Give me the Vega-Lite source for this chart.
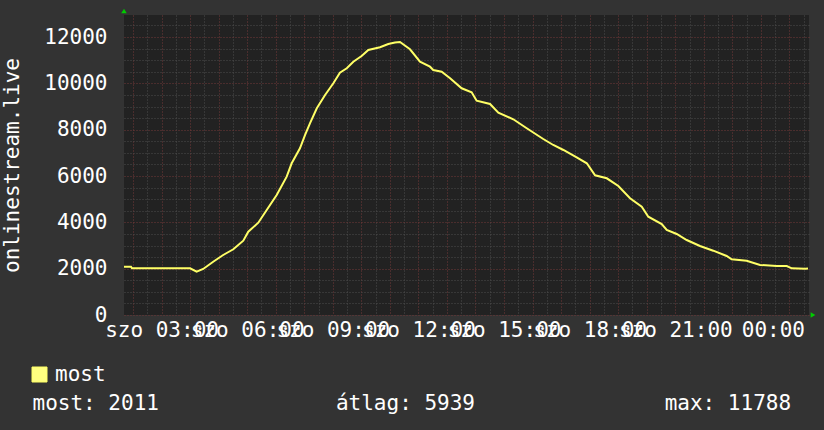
{
  "$schema": "https://vega.github.io/schema/vega-lite/v6.json",
  "autosize": "none",
  "width": 685,
  "height": 300,
  "padding": {"left": 124, "top": 15, "right": 15, "bottom": 115},
  "background": "#333333",
  "config": {
    "view": {"fill": "#222222", "stroke": null},
    "font": "DejaVu Sans Mono"
  },
  "title": {
    "text": "most: 2011\u00a0\u00a0\u00a0\u00a0\u00a0\u00a0\u00a0\u00a0\u00a0\u00a0\u00a0\u00a0\u00a0\u00a0átlag: 5939\u00a0\u00a0\u00a0\u00a0\u00a0\u00a0\u00a0\u00a0\u00a0\u00a0\u00a0\u00a0\u00a0\u00a0\u00a0max: 11788",
    "orient": "bottom",
    "anchor": "start",
    "frame": "group",
    "dx": -91.5,
    "offset": 8,
    "font": "DejaVu Sans Mono",
    "fontSize": 21,
    "fontWeight": "normal",
    "color": "#ffffff"
  },
  "encoding": {
    "x": {
      "field": "h", "type": "quantitative",
      "scale": {"domain": [1.685, 25.685], "nice": false, "zero": false},
      "axis": {
        "title": null,
        "values": [2, 2.5, 3, 3.5, 4, 4.5, 5, 5.5, 6, 6.5, 7, 7.5, 8, 8.5, 9, 9.5, 10, 10.5, 11, 11.5, 12, 12.5, 13, 13.5, 14, 14.5, 15, 15.5, 16, 16.5, 17, 17.5, 18, 18.5, 19, 19.5, 20, 20.5, 21, 21.5, 22, 22.5, 23, 23.5, 24, 24.5, 25, 25.5],
        "labelExpr": "datum.value % 3 == 0 ? (datum.value == 24 ? '00:00' : 'szo ' + (datum.value < 10 ? '0' : '') + datum.value + ':00') : ''",
        "labelOverlap": false,
        "labelBound": false,
        "labelFlush": false,
        "labelFont": "DejaVu Sans Mono",
        "labelFontSize": 21,
        "labelColor": "#ffffff",
        "labelPadding": 4,
        "labelOffset": {"condition": {"test": "datum.value == 24", "value": 12}, "value": 0},
        "ticks": false,
        "domain": false,
        "grid": true,
        "gridColor": {"condition": {"test": "datum.value % 1 == 0", "value": "#733838"}, "value": "#4d4d4d"},
        "gridDash": [1, 2],
        "gridWidth": 1,
        "gridOpacity": 1
      }
    },
    "y": {
      "field": "v", "type": "quantitative",
      "scale": {"domain": [0, 12950], "nice": false},
      "axis": {
        "title": "onlinestream.live",
        "titleFont": "DejaVu Sans Mono",
        "titleFontSize": 21,
        "titleFontWeight": "normal",
        "titleColor": "#ffffff",
        "titlePadding": 21,
        "values": [0, 500, 1000, 1500, 2000, 2500, 3000, 3500, 4000, 4500, 5000, 5500, 6000, 6500, 7000, 7500, 8000, 8500, 9000, 9500, 10000, 10500, 11000, 11500, 12000, 12500],
        "labelExpr": "datum.value % 2000 == 0 ? '' + datum.value : ''",
        "labelFont": "DejaVu Sans Mono",
        "labelFontSize": 21,
        "labelColor": "#ffffff",
        "labelPadding": 17,
        "labelOverlap": false,
        "labelBound": false,
        "labelFlush": false,
        "ticks": false,
        "domain": false,
        "grid": true,
        "gridColor": {"condition": {"test": "datum.value % 2000 == 0", "value": "#733838"}, "value": "#4d4d4d"},
        "gridDash": [1, 2],
        "gridWidth": 1,
        "gridOpacity": 1
      }
    }
  },
  "layer": [
    {
      "data": {"values": [
        {"h": 1.685, "v": 2085, "series": "most"},
        {"h": 1.93, "v": 2085, "series": "most"},
        {"h": 1.965, "v": 2016, "series": "most"},
        {"h": 4.0, "v": 2016, "series": "most"},
        {"h": 4.23, "v": 1869, "series": "most"},
        {"h": 4.46, "v": 1986, "series": "most"},
        {"h": 4.81, "v": 2301, "series": "most"},
        {"h": 5.16, "v": 2590, "series": "most"},
        {"h": 5.515, "v": 2836, "series": "most"},
        {"h": 5.865, "v": 3208, "series": "most"},
        {"h": 6.04, "v": 3596, "series": "most"},
        {"h": 6.39, "v": 3985, "series": "most"},
        {"h": 6.685, "v": 4533, "series": "most"},
        {"h": 7.035, "v": 5180, "series": "most"},
        {"h": 7.385, "v": 5970, "series": "most"},
        {"h": 7.56, "v": 6549, "series": "most"},
        {"h": 7.85, "v": 7196, "series": "most"},
        {"h": 8.03, "v": 7771, "series": "most"},
        {"h": 8.2, "v": 8276, "series": "most"},
        {"h": 8.44, "v": 8923, "series": "most"},
        {"h": 8.73, "v": 9497, "series": "most"},
        {"h": 9.02, "v": 10002, "series": "most"},
        {"h": 9.25, "v": 10460, "series": "most"},
        {"h": 9.49, "v": 10650, "series": "most"},
        {"h": 9.72, "v": 10935, "series": "most"},
        {"h": 10.01, "v": 11181, "series": "most"},
        {"h": 10.245, "v": 11440, "series": "most"},
        {"h": 10.655, "v": 11557, "series": "most"},
        {"h": 10.945, "v": 11699, "series": "most"},
        {"h": 11.18, "v": 11760, "series": "most"},
        {"h": 11.355, "v": 11788, "series": "most"},
        {"h": 11.705, "v": 11470, "series": "most"},
        {"h": 12.055, "v": 10935, "series": "most"},
        {"h": 12.405, "v": 10719, "series": "most"},
        {"h": 12.52, "v": 10577, "series": "most"},
        {"h": 12.815, "v": 10503, "series": "most"},
        {"h": 13.11, "v": 10218, "series": "most"},
        {"h": 13.515, "v": 9787, "series": "most"},
        {"h": 13.865, "v": 9614, "series": "most"},
        {"h": 14.04, "v": 9251, "series": "most"},
        {"h": 14.51, "v": 9109, "series": "most"},
        {"h": 14.8, "v": 8733, "series": "most"},
        {"h": 15.325, "v": 8448, "series": "most"},
        {"h": 15.795, "v": 8060, "series": "most"},
        {"h": 16.375, "v": 7598, "series": "most"},
        {"h": 16.725, "v": 7339, "series": "most"},
        {"h": 17.08, "v": 7123, "series": "most"},
        {"h": 17.545, "v": 6808, "series": "most"},
        {"h": 17.9, "v": 6549, "series": "most"},
        {"h": 18.19, "v": 6029, "series": "most"},
        {"h": 18.6, "v": 5901, "series": "most"},
        {"h": 19.005, "v": 5569, "series": "most"},
        {"h": 19.415, "v": 5038, "series": "most"},
        {"h": 19.825, "v": 4675, "series": "most"},
        {"h": 20.055, "v": 4244, "series": "most"},
        {"h": 20.525, "v": 3928, "series": "most"},
        {"h": 20.7, "v": 3669, "series": "most"},
        {"h": 21.05, "v": 3497, "series": "most"},
        {"h": 21.4, "v": 3238, "series": "most"},
        {"h": 21.865, "v": 2979, "series": "most"},
        {"h": 22.33, "v": 2776, "series": "most"},
        {"h": 22.8, "v": 2547, "series": "most"},
        {"h": 22.975, "v": 2405, "series": "most"},
        {"h": 23.5, "v": 2344, "series": "most"},
        {"h": 23.97, "v": 2159, "series": "most"},
        {"h": 24.555, "v": 2115, "series": "most"},
        {"h": 24.905, "v": 2115, "series": "most"},
        {"h": 25.08, "v": 2016, "series": "most"},
        {"h": 25.545, "v": 1999, "series": "most"},
        {"h": 25.65, "v": 2011, "series": "most"}
      ]},
      "mark": {"type": "line", "strokeWidth": 2, "interpolate": "linear"},
      "encoding": {
        "color": {
          "field": "series", "type": "nominal",
          "scale": {"range": ["#ffff66"]},
          "legend": {
            "title": null,
            "orient": "none",
            "legendX": -95,
            "legendY": 349,
            "symbolType": "square",
            "symbolSize": 225,
            "labelFont": "DejaVu Sans Mono",
            "labelFontSize": 21,
            "labelColor": "#ffffff",
            "labelOffset": 5,
            "encode": {"symbols": {"update": {"fill": {"value": "#ffff80"}, "stroke": {"value": "#111111"}, "strokeWidth": {"value": 1}}}}
          }
        }
      }
    },
    {
      "data": {"values": [{"h": 1.685, "v": 12950}]},
      "mark": {"type": "point", "shape": "triangle-up", "filled": true, "color": "#00cc00", "size": 30, "yOffset": -4, "opacity": 1}
    },
    {
      "data": {"values": [{"h": 25.685, "v": 0}]},
      "mark": {"type": "point", "shape": "triangle-right", "filled": true, "color": "#00cc00", "size": 30, "xOffset": 4, "opacity": 1}
    }
  ]
}
